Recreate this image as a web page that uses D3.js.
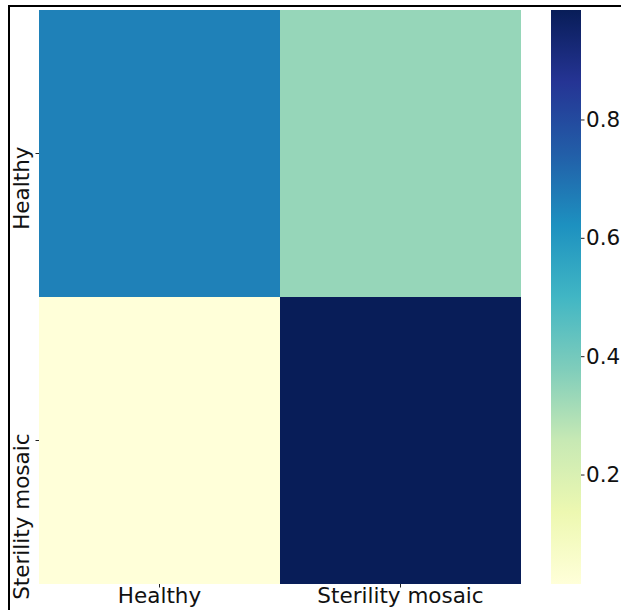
<!DOCTYPE html>
<html>
<head>
<meta charset="utf-8">
<script src="https://cdn.jsdelivr.net/npm/d3@7"></script>
<style>
  body { margin: 0; background: #fff; }
  svg { display: block; }
</style>
</head>
<body>
<script>
const classes = ['Healthy', 'Sterility mosaic']
// rows = true class, cols = predicted class
const matrix = [
    [0.66, 0.34],
    [0.015, 0.985],
]
const colorbarTicks = [0.2, 0.4, 0.6, 0.8]
// matplotlib YlGnBu stops
const ylgnbu = ['#ffffd9', '#edf8b1', '#c7e9b4', '#7fcdbb', '#41b6c4', '#1d91c0', '#225ea8', '#253494', '#081d58']

const width = 621, height = 610
const plot = { left: 39, top: 10, right: 521, bottom: 584 }
const cbar = { left: 551, right: 581 }
const fontSize = 21.5

const svg = d3.select('body').append('svg')
    .attr('width', width)
    .attr('height', height)
    .attr('viewBox', [0, 0, width, height])

const cells = matrix.flatMap((row, i) => row.map((v, j) => ({ row: classes[i], col: classes[j], value: v })))
const vals = cells.map(d => d.value)
const vmin = d3.min(vals), vmax = d3.max(vals)

const color = d3.scaleLinear()
    .domain(ylgnbu.map((c, i) => vmin + (vmax - vmin) * i / (ylgnbu.length - 1)))
    .range(ylgnbu)
    .interpolate(d3.interpolateRgb)
    .clamp(true)

const x = d3.scaleBand().domain(classes).range([plot.left, plot.right])
const y = d3.scaleBand().domain(classes).range([plot.top, plot.bottom])

svg.append('g')
    .selectAll('rect')
    .data(cells)
    .join('rect')
        .attr('x', d => x(d.col))
        .attr('y', d => y(d.row))
        .attr('width', x.bandwidth())
        .attr('height', y.bandwidth())
        .attr('fill', d => color(d.value))

const font = 'DejaVu Sans, sans-serif'

// x tick labels
const xAxis = svg.append('g')
    .attr('transform', `translate(0,${plot.bottom})`)
    .call(d3.axisBottom(x).tickSize(3.5))
xAxis.select('.domain').remove()
xAxis.selectAll('line').attr('stroke', '#222')
xAxis.selectAll('text')
    .attr('font-family', font)
    .attr('font-size', fontSize)
    .attr('fill', '#111')
    .attr('dy', null)
    .attr('y', 19)

// y tick labels, rotated
const yAxis = svg.append('g')
    .attr('transform', `translate(${plot.left},0)`)
    .call(d3.axisLeft(y).tickSize(3.5))
yAxis.select('.domain').remove()
yAxis.selectAll('line').attr('stroke', '#222')
yAxis.selectAll('text')
    .attr('font-family', font)
    .attr('font-size', fontSize)
    .attr('fill', '#111')
    .attr('x', null)
    .attr('dy', null)
    .attr('text-anchor', 'end')
    .attr('transform', 'translate(-10.5,-7) rotate(-90)')

// colorbar
const cy = d3.scaleLinear().domain([vmin, vmax]).range([plot.bottom, plot.top])
const grad = svg.append('defs').append('linearGradient')
    .attr('id', 'cbar')
    .attr('x1', 0).attr('y1', 1).attr('x2', 0).attr('y2', 0)
grad.selectAll('stop')
    .data(color.domain())
    .join('stop')
        .attr('offset', d => (d - vmin) / (vmax - vmin))
        .attr('stop-color', d => color(d))

svg.append('rect')
    .attr('x', cbar.left)
    .attr('y', plot.top)
    .attr('width', cbar.right - cbar.left)
    .attr('height', plot.bottom - plot.top)
    .attr('fill', 'url(#cbar)')

const cAxis = svg.append('g')
    .attr('transform', `translate(${cbar.right},0)`)
    .call(d3.axisRight(cy).tickValues(colorbarTicks).tickFormat(d3.format('.1f')).tickSize(3.5).tickPadding(1.5))
cAxis.select('.domain').remove()
cAxis.selectAll('line').attr('stroke', '#222')
cAxis.selectAll('text')
    .attr('font-family', font)
    .attr('font-size', fontSize)
    .attr('fill', '#111')

// outer frame
svg.append('rect')
    .attr('x', 9)
    .attr('y', 6)
    .attr('width', 800)
    .attr('height', 800)
    .attr('fill', 'none')
    .attr('stroke', '#000')
    .attr('stroke-width', 2)
</script>
</body>
</html>
